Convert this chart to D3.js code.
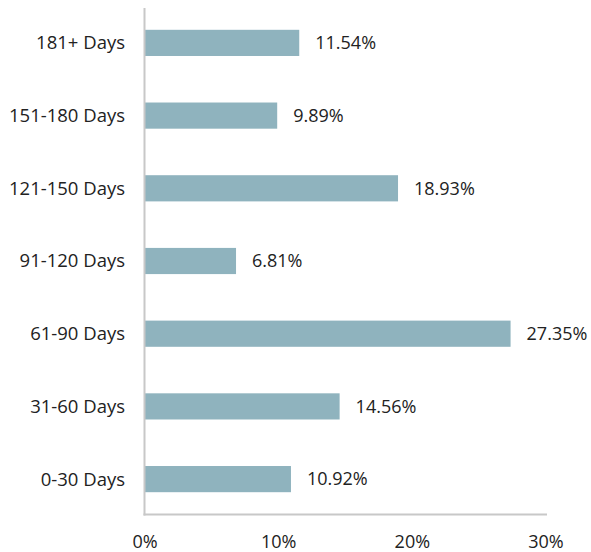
<!DOCTYPE html>
<html>
<head>
<meta charset="utf-8">
<script src="https://cdn.jsdelivr.net/npm/d3@7"></script>
<style>
  html, body { margin: 0; padding: 0; background: #fff; }
  svg { display: block; }
  text { font-family: "Open Sans", sans-serif; fill: #222; }
</style>
</head>
<body>
<svg id="chart" width="591" height="552"></svg>
<script>
const categories = ["181+ Days", "151-180 Days", "121-150 Days", "91-120 Days", "61-90 Days", "31-60 Days", "0-30 Days"];
const values = [11.54, 9.89, 18.93, 6.81, 27.35, 14.56, 10.92];
const tickValues = [0, 10, 20, 30];
const tickLabels = ["0%", "10%", "20%", "30%"];

const data = categories.map((c, i) => ({ cat: c, val: values[i] }));

const svg = d3.select("#chart");
const mLeft = 145, mRight = 546, mTop = 8, mBottom = 514.5;

const x = d3.scaleLinear().domain([0, 30]).range([mLeft, mRight]);
const y = d3.scaleBand().domain(categories).range([mTop, 514]).paddingInner(0.64).paddingOuter(0.3);

// bars
svg.append("g").selectAll("rect").data(data).join("rect")
  .attr("x", x(0))
  .attr("y", d => y(d.cat))
  .attr("width", d => x(d.val) - x(0))
  .attr("height", y.bandwidth())
  .attr("fill", "#8fb3be");

// value labels
svg.append("g").selectAll("text").data(data).join("text")
  .attr("x", d => x(d.val) + 16)
  .attr("y", d => y(d.cat) + y.bandwidth() / 2)
  .attr("dy", "0.35em")
  .attr("font-size", 18)
  .text(d => d.val.toFixed(2) + "%");

// category labels
svg.append("g").selectAll("text").data(data).join("text")
  .attr("x", 125)
  .attr("y", d => y(d.cat) + y.bandwidth() / 2)
  .attr("dy", "0.35em")
  .attr("text-anchor", "end")
  .attr("font-size", 18.5)
  .text(d => d.cat);

// axes lines
svg.append("line").attr("x1", mLeft - 0.5).attr("x2", mLeft - 0.5).attr("y1", mTop).attr("y2", mBottom + 1)
  .attr("stroke", "#c8c8c8").attr("stroke-width", 2);
svg.append("line").attr("x1", mLeft - 1.5).attr("x2", x(30) + 1).attr("y1", mBottom).attr("y2", mBottom)
  .attr("stroke", "#c8c8c8").attr("stroke-width", 2);

// x tick labels
svg.append("g").selectAll("text").data(tickValues).join("text")
  .attr("x", d => x(d))
  .attr("y", 542)
  .attr("dy", "0.35em")
  .attr("text-anchor", "middle")
  .attr("font-size", 18)
  .text((d, i) => tickLabels[i]);
</script>
</body>
</html>
